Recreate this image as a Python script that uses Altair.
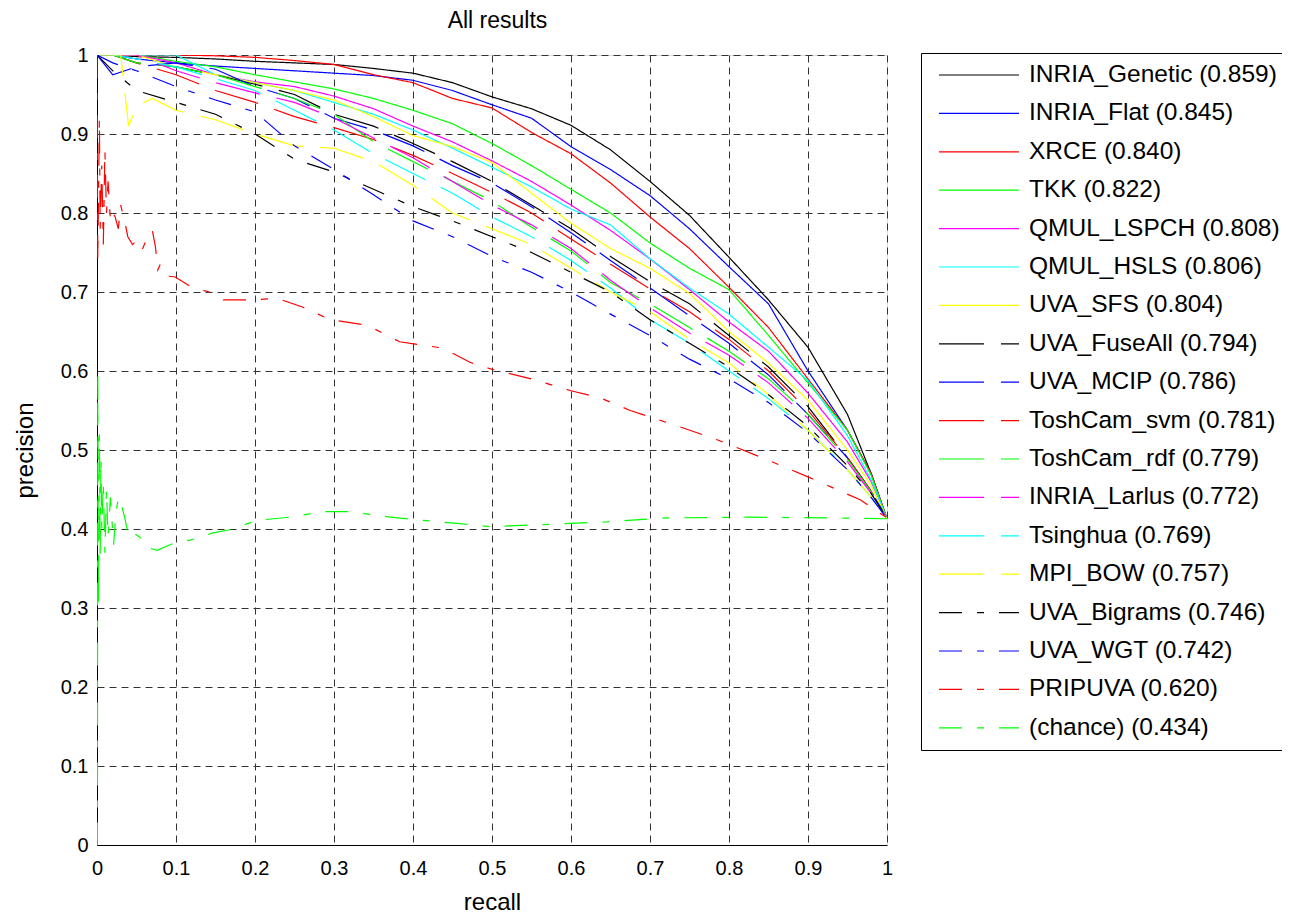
import altair as alt
import pandas as pd

# ---------------- data ----------------
LABELS = [
    "INRIA_Genetic (0.859)", "INRIA_Flat (0.845)", "XRCE (0.840)", "TKK (0.822)",
    "QMUL_LSPCH (0.808)", "QMUL_HSLS (0.806)", "UVA_SFS (0.804)", "UVA_FuseAll (0.794)",
    "UVA_MCIP (0.786)", "ToshCam_svm (0.781)", "ToshCam_rdf (0.779)", "INRIA_Larlus (0.772)",
    "Tsinghua (0.769)", "MPI_BOW (0.757)", "UVA_Bigrams (0.746)", "UVA_WGT (0.742)",
    "PRIPUVA (0.620)", "(chance) (0.434)",
]
COLORS = ["#000000", "#0000ff", "#ff0000", "#00ff00", "#ff00ff", "#00ffff", "#ffff00",
          "#000000", "#0000ff", "#ff0000", "#00ff00", "#ff00ff", "#00ffff", "#ffff00",
          "#000000", "#0000ff", "#ff0000", "#00ff00"]
SOLID = [1, 0]
DASH = [45, 17]
DASHDOT = [23, 15, 7, 15]
DASHES = [SOLID] * 7 + [DASH] * 7 + [DASHDOT] * 4

R = [0, 0.02, 0.05, 0.1, 0.15, 0.2, 0.25, 0.3, 0.35, 0.4, 0.45, 0.5, 0.55, 0.6,
     0.65, 0.7, 0.75, 0.8, 0.85, 0.9, 0.95, 0.98, 1.0]

P_GENETIC = [1.0, 1.0, 0.998, 0.997, 0.995, 0.992, 0.990, 0.988, 0.983, 0.977, 0.965, 0.947,
             0.932, 0.911, 0.880, 0.840, 0.797, 0.744, 0.690, 0.630, 0.545, 0.470, 0.413]
P_FLAT = [1.0, 1.0, 0.995, 0.990, 0.986, 0.983, 0.980, 0.977, 0.974, 0.968, 0.955, 0.937,
          0.920, 0.884, 0.855, 0.822, 0.780, 0.732, 0.685, 0.600, 0.525, 0.470, 0.413]
P_XRCE = [1.0, 1.0, 1.0, 1.0, 0.999, 0.997, 0.993, 0.988, 0.975, 0.965, 0.945, 0.933,
          0.902, 0.875, 0.838, 0.795, 0.755, 0.706, 0.655, 0.590, 0.525, 0.470, 0.413]
P_TKK = [1.0, 1.0, 1.0, 0.992, 0.985, 0.975, 0.966, 0.957, 0.945, 0.930, 0.913, 0.888,
         0.860, 0.830, 0.800, 0.762, 0.730, 0.703, 0.645, 0.585, 0.525, 0.468, 0.413]
P_LSPCH = [1.0, 1.0, 1.0, 0.990, 0.975, 0.966, 0.960, 0.948, 0.932, 0.910, 0.890, 0.866,
           0.840, 0.810, 0.778, 0.742, 0.703, 0.662, 0.625, 0.572, 0.510, 0.460, 0.413]
P_HSLS = [1.0, 1.0, 1.0, 1.0, 0.975, 0.965, 0.955, 0.940, 0.925, 0.905, 0.882, 0.858,
          0.833, 0.805, 0.785, 0.742, 0.705, 0.672, 0.630, 0.588, 0.518, 0.462, 0.413]
P_SFS = [1.0, 1.0, 1.0, 0.985, 0.975, 0.965, 0.955, 0.943, 0.922, 0.898, 0.884, 0.864,
         0.825, 0.787, 0.755, 0.730, 0.698, 0.650, 0.610, 0.563, 0.500, 0.455, 0.413]
P_FUSEALL = [1.0, 1.0, 0.990, 0.985, 0.975, 0.963, 0.950, 0.925, 0.910, 0.888, 0.865, 0.840,
             0.810, 0.780, 0.745, 0.713, 0.685, 0.645, 0.605, 0.555, 0.490, 0.448, 0.413]
P_MCIP = [1.0, 0.975, 0.985, 0.990, 0.982, 0.960, 0.945, 0.920, 0.905, 0.885, 0.860, 0.838,
          0.808, 0.775, 0.740, 0.705, 0.670, 0.635, 0.595, 0.545, 0.490, 0.448, 0.413]
P_TOSH_SVM = [1.0, 1.0, 0.990, 0.975, 0.955, 0.940, 0.922, 0.908, 0.893, 0.873, 0.850, 0.826,
              0.800, 0.767, 0.735, 0.704, 0.675, 0.640, 0.600, 0.550, 0.490, 0.448, 0.413]
P_TOSH_RDF = [1.0, 1.0, 0.990, 0.985, 0.975, 0.960, 0.945, 0.925, 0.890, 0.865, 0.840, 0.815,
              0.782, 0.752, 0.712, 0.685, 0.655, 0.625, 0.590, 0.545, 0.488, 0.447, 0.413]
P_LARLUS = [1.0, 1.0, 1.0, 0.980, 0.965, 0.952, 0.940, 0.920, 0.895, 0.870, 0.840, 0.810,
            0.785, 0.755, 0.715, 0.680, 0.648, 0.620, 0.585, 0.540, 0.485, 0.445, 0.413]
P_TSINGHUA = [1.0, 1.0, 0.995, 0.985, 0.970, 0.955, 0.930, 0.905, 0.875, 0.850, 0.825, 0.795,
              0.770, 0.740, 0.705, 0.665, 0.635, 0.600, 0.565, 0.525, 0.475, 0.440, 0.413]
P_BIGRAMS = [1.0, 0.980, 0.955, 0.940, 0.925, 0.900, 0.868, 0.852, 0.830, 0.808, 0.790, 0.770,
             0.750, 0.725, 0.700, 0.665, 0.635, 0.605, 0.570, 0.530, 0.480, 0.445, 0.413]
P_WGT = [1.0, 0.990, 0.980, 0.960, 0.943, 0.928, 0.885, 0.855, 0.823, 0.790, 0.770, 0.745,
         0.725, 0.700, 0.672, 0.645, 0.615, 0.590, 0.560, 0.522, 0.475, 0.440, 0.413]

R_MPI = [0, 0.03, 0.04, 0.05, 0.07, 0.1, 0.15, 0.2, 0.25, 0.3, 0.35, 0.4, 0.45, 0.5, 0.55,
         0.6, 0.65, 0.7, 0.75, 0.8, 0.85, 0.9, 0.95, 0.98, 1.0]
P_MPI = [1.0, 1.0, 0.91, 0.935, 0.945, 0.93, 0.918, 0.90, 0.885, 0.882, 0.865, 0.835, 0.80,
         0.78, 0.76, 0.73, 0.70, 0.675, 0.64, 0.61, 0.57, 0.525, 0.475, 0.44, 0.413]

R_PRIPUVA = [0, 0.001, 0.003, 0.004, 0.006, 0.008, 0.010, 0.012, 0.014, 0.017, 0.020, 0.023,
             0.027, 0.030, 0.035, 0.039, 0.045, 0.050, 0.057, 0.062, 0.070, 0.074, 0.077,
             0.080, 0.090, 0.099, 0.12, 0.146, 0.16, 0.20, 0.228, 0.26, 0.295, 0.342, 0.383,
             0.438, 0.472, 0.497, 0.55, 0.60, 0.637, 0.675, 0.73, 0.785, 0.84, 0.90, 0.966, 1.0]
P_PRIPUVA = [1.0, 0.74, 0.92, 0.78, 0.86, 0.76, 0.88, 0.80, 0.84, 0.79, 0.80, 0.795, 0.78,
             0.81, 0.79, 0.77, 0.76, 0.765, 0.753, 0.765, 0.778, 0.757, 0.728, 0.735, 0.72,
             0.719, 0.706, 0.699, 0.69, 0.69, 0.692, 0.681, 0.665, 0.658, 0.637, 0.629, 0.611,
             0.603, 0.59, 0.575, 0.566, 0.55, 0.532, 0.513, 0.491, 0.466, 0.437, 0.414]

R_CHANCE = [0, 0.0005, 0.001, 0.002, 0.003, 0.004, 0.005, 0.006, 0.008, 0.010, 0.012, 0.014,
            0.017, 0.021, 0.024, 0.027, 0.031, 0.035, 0.038, 0.040, 0.046, 0.054, 0.063,
            0.076, 0.097, 0.118, 0.147, 0.168, 0.203, 0.244, 0.286, 0.32, 0.371, 0.413,
            0.456, 0.497, 0.55, 0.645, 0.72, 0.827, 0.93, 1.0]
P_CHANCE = [0.0, 0.0, 0.6, 0.3, 0.52, 0.36, 0.49, 0.40, 0.46, 0.37, 0.45, 0.39, 0.44, 0.38,
            0.42, 0.44, 0.43, 0.415, 0.40, 0.405, 0.395, 0.39, 0.377, 0.373, 0.382, 0.386,
            0.395, 0.399, 0.411, 0.415, 0.422, 0.422, 0.415, 0.411, 0.407, 0.403, 0.405,
            0.409, 0.414, 0.415, 0.414, 0.413]

TICKS = [0, 0.1, 0.2, 0.3, 0.4, 0.5, 0.6, 0.7, 0.8, 0.9, 1]
TITLE = "All results"

SERIES = [
    (R, P_GENETIC), (R, P_FLAT), (R, P_XRCE), (R, P_TKK), (R, P_LSPCH), (R, P_HSLS),
    (R, P_SFS), (R, P_FUSEALL), (R, P_MCIP), (R, P_TOSH_SVM), (R, P_TOSH_RDF),
    (R, P_LARLUS), (R, P_TSINGHUA), (R_MPI, P_MPI), (R, P_BIGRAMS), (R, P_WGT),
    (R_PRIPUVA, P_PRIPUVA), (R_CHANCE, P_CHANCE),
]

rows = []
for k, (lab, (rr, pp)) in enumerate(zip(LABELS, SERIES)):
    for i, (r, p) in enumerate(zip(rr, pp)):
        rows.append({"series": lab, "k": k, "i": i, "recall": r, "precision": p})
df = pd.DataFrame(rows)

FONT = "Liberation Sans"
XSCALE = alt.Scale(domain=[0, 1], nice=False, zero=False)
YSCALE = alt.Scale(domain=[0, 1], nice=False, zero=False)

LEG_FS = 24.5
legend = alt.Legend(
    title=None, orient="none", legendX=824, legendY=-2,
    symbolType="stroke", symbolSize=6400, symbolStrokeWidth=1.2, symbolOffset=7,
    labelFontSize=LEG_FS, labelFont=FONT, labelColor="black", labelLimit=600, labelOffset=9,
    padding=10, rowPadding=37.9 - LEG_FS, clipHeight=24, strokeColor="black",
    fillColor="white", symbolLimit=50,
)

axis_common = dict(
    values=TICKS, format=".1~f", grid=True, gridColor="#333333", gridDash=[7, 5],
    gridWidth=1, ticks=False, domainColor="black", domainWidth=1, labelFlush=False,
    labelFont=FONT, labelFontSize=20, labelColor="black",
    titleFont=FONT, titleFontSize=24, titleFontWeight="normal", titleColor="black",
)

lines = alt.Chart(df).mark_line(strokeWidth=1.2, clip=True).encode(
    x=alt.X("recall:Q", scale=XSCALE,
            axis=alt.Axis(title="recall", labelPadding=13, titleX=395, titleY=64,
                          titleAlign="center", titleBaseline="alphabetic", **axis_common)),
    y=alt.Y("precision:Q", scale=YSCALE,
            axis=alt.Axis(title="precision", labelPadding=9, titleX=-72, titleY=395,
                          titleAngle=-90, titleAlign="center", titleBaseline="middle",
                          **axis_common)),
    color=alt.Color("series:N", scale=alt.Scale(domain=LABELS, range=COLORS), legend=legend),
    strokeDash=alt.StrokeDash("series:N", scale=alt.Scale(domain=LABELS, range=DASHES),
                              legend=legend),
    order=alt.Order("i:Q"),
)

# top axis that carries only the chart title, so its position is fixed
title_axis = alt.Chart(df).mark_point(opacity=0, size=0).encode(
    x=alt.X("recall:Q", scale=XSCALE,
            axis=alt.Axis(orient="top", title=TITLE, labels=False, ticks=False,
                          domain=False, grid=False, titleX=400, titleY=-28,
                          titleAlign="center", titleBaseline="alphabetic",
                          titleFont=FONT, titleFontSize=23, titleFontWeight="normal",
                          titleColor="black")),
)

chart = alt.layer(lines, title_axis).resolve_axis(x="independent").properties(
    width=790, height=790,
    autosize=alt.AutoSizeParams(type="none"),
    padding={"left": 89, "top": 47, "right": 395, "bottom": 70},
).configure_view(strokeWidth=0).configure(background="white")

chart.save("out.html", embed_options={"renderer": "svg", "actions": False})
